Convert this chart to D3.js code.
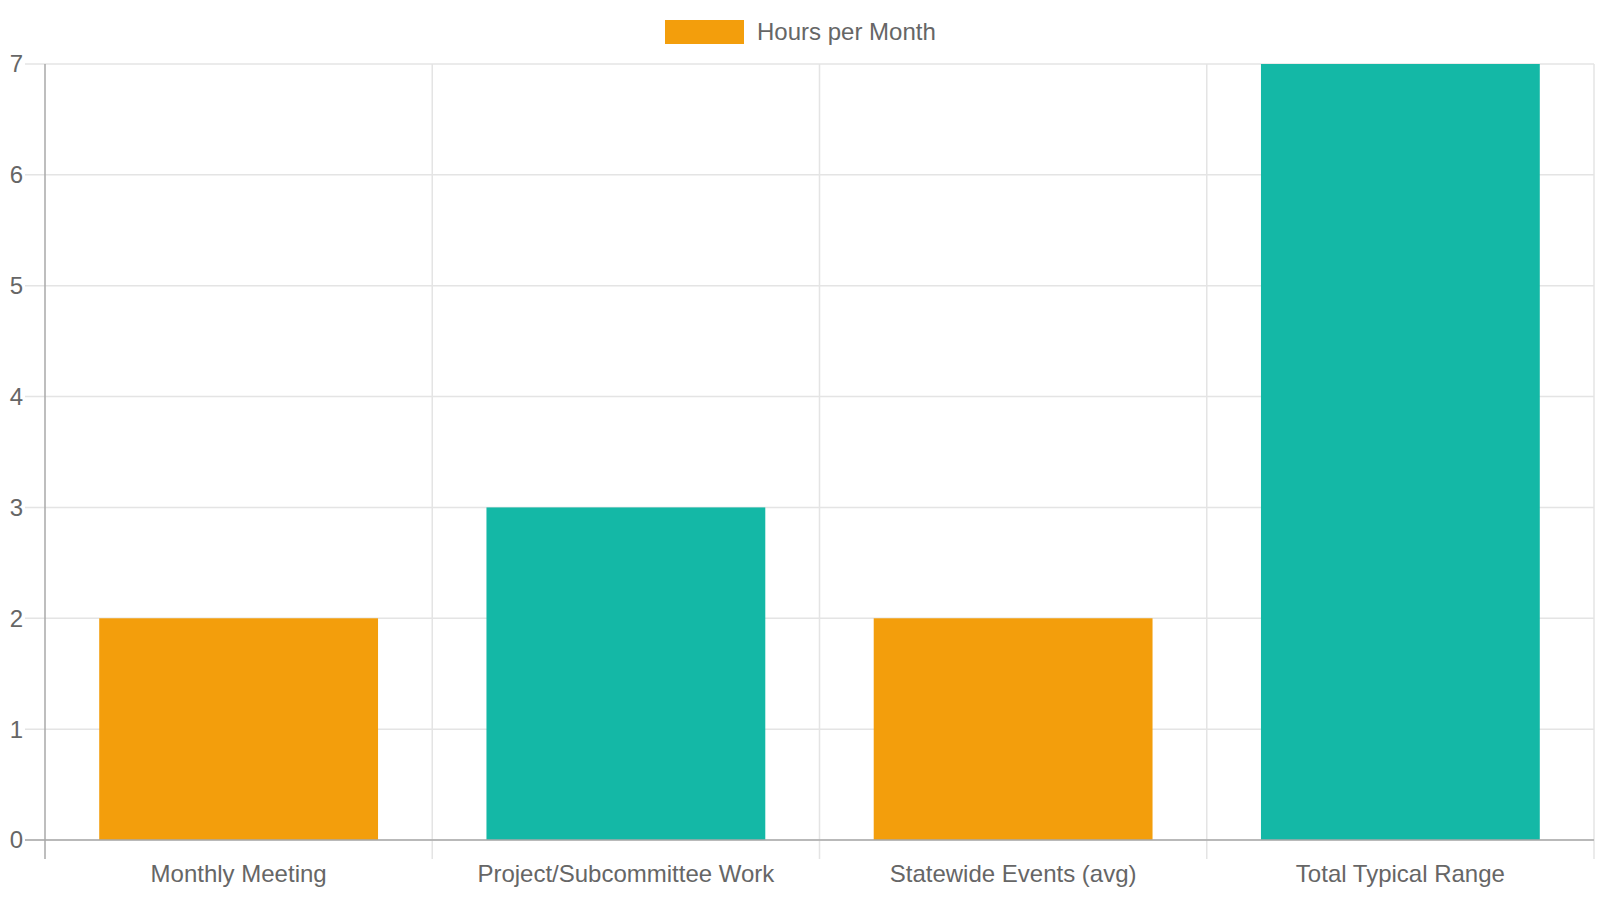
<!DOCTYPE html>
<html>
<head>
<meta charset="utf-8">
<script src="https://cdn.jsdelivr.net/npm/d3@7"></script>
<style>
  html, body { margin: 0; padding: 0; background: #fff; }
  svg { display: block; font-family: "Liberation Sans", Arial, sans-serif; }
</style>
</head>
<body>
<script>
(function () {

    //chart data
    var categories = ["Monthly Meeting", "Project/Subcommittee Work", "Statewide Events (avg)", "Total Typical Range"];
    var hours = [2, 3, 2, 7];
    var barColors = ["#f39e0c", "#14b8a6", "#f39e0c", "#14b8a6"];
    var yTicks = [0, 1, 2, 3, 4, 5, 6, 7];
    var seriesName = "Hours per Month";

    var width = 1600, height = 900;
    var left = 45, right = 1594, top = 64, bottom = 840;

    var svg = d3.select("body").append("svg")
        .attr("width", width)
        .attr("height", height);

    var x = d3.scaleBand()
        .domain(categories)
        .range([left, right])
        .padding(0);

    var y = d3.scaleLinear()
        .domain([0, 7])
        .range([bottom, top]);

    //horizontal grid lines
    svg.append("g").selectAll("line")
        .data(yTicks)
        .enter()
        .append("line")
        .attr("x1", left - 20)
        .attr("x2", right)
        .attr("y1", function (d) { return y(d); })
        .attr("y2", function (d) { return y(d); })
        .attr("stroke", "#e4e4e4")
        .attr("stroke-width", 1.5);

    //vertical grid lines at category edges
    var edges = categories.map(function (c) { return x(c); }).concat([right]);
    svg.append("g").selectAll("line")
        .data(edges.slice(1))
        .enter()
        .append("line")
        .attr("x1", function (d) { return d; })
        .attr("x2", function (d) { return d; })
        .attr("y1", top)
        .attr("y2", bottom + 19)
        .attr("stroke", "#e4e4e4")
        .attr("stroke-width", 1.5);

    //bars
    var barW = x.bandwidth() * 0.72;
    svg.append("g").selectAll("rect")
        .data(hours)
        .enter()
        .append("rect")
        .attr("x", function (d, i) { return x(categories[i]) + (x.bandwidth() - barW) / 2; })
        .attr("y", function (d) { return y(d); })
        .attr("width", barW)
        .attr("height", function (d) { return bottom - y(d); })
        .attr("fill", function (d, i) { return barColors[i]; });

    //axis lines
    svg.append("line")
        .attr("x1", left).attr("x2", left)
        .attr("y1", top).attr("y2", bottom + 19)
        .attr("stroke", "#a8a8a8").attr("stroke-width", 1.5);
    svg.append("line")
        .attr("x1", left - 20).attr("x2", right)
        .attr("y1", bottom).attr("y2", bottom)
        .attr("stroke", "#a8a8a8").attr("stroke-width", 1.5);

    //y tick labels
    svg.append("g").selectAll("text")
        .data(yTicks)
        .enter()
        .append("text")
        .attr("x", left - 22)
        .attr("y", function (d) { return y(d); })
        .attr("dy", "0.35em")
        .attr("text-anchor", "end")
        .attr("font-size", 24)
        .attr("fill", "#666")
        .text(function (d) { return d; });

    //x tick labels
    svg.append("g").selectAll("text")
        .data(categories)
        .enter()
        .append("text")
        .attr("x", function (d) { return x(d) + x.bandwidth() / 2; })
        .attr("y", 874)
        .attr("dy", "0.35em")
        .attr("text-anchor", "middle")
        .attr("font-size", 24)
        .attr("fill", "#666")
        .text(function (d) { return d; });

    //legend
    var legend = svg.append("g");
    legend.append("rect")
        .attr("x", 665).attr("y", 20)
        .attr("width", 79).attr("height", 24)
        .attr("fill", barColors[0]);
    legend.append("text")
        .attr("x", 757).attr("y", 32)
        .attr("dy", "0.35em")
        .attr("font-size", 24)
        .attr("fill", "#666")
        .text(seriesName);

})();
</script>
</body>
</html>
